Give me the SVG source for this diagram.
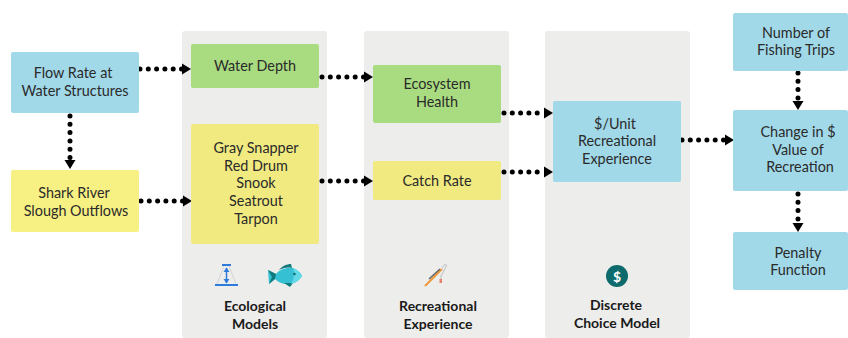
<svg xmlns="http://www.w3.org/2000/svg" width="848" height="338" viewBox="0 0 848 338">
<style>
text{font-family:Lato,"Open Sans","Liberation Sans",sans-serif;font-size:14.4px;fill:#2b2b2b;text-anchor:middle}
.h{font-weight:700;font-size:14px;fill:#1a1a1a}
.panel{fill:#ededec}
.blue{fill:#a1d9e9}
.yellow{fill:#f7f083}
.yellow2{fill:#f0ea80}
.green{fill:#a9dc80}
.c{fill:none;stroke:#000;stroke-width:5;stroke-linecap:round;stroke-dasharray:0 8.3;marker-end:url(#a)}
</style>
<defs>
<marker id="a" markerUnits="userSpaceOnUse" markerWidth="10" markerHeight="12" refX="0" refY="6" orient="auto"><path d="M0 0.500L9 6L0 11.500Z" fill="#000"/></marker>
</defs>
<rect width="848" height="338" fill="#fff"/>
<g id="panels">
<rect class="panel" x="182" y="31" width="145" height="307" rx="3"/>
<rect class="panel" x="364" y="31" width="145" height="307" rx="3"/>
<rect class="panel" x="545" y="31" width="145" height="307" rx="3"/>
</g>
<g id="connectors">
<path class="c" d="M140 69H182"/>
<path class="c" d="M70 116V160"/>
<path class="c" d="M141 201H183"/>
<path class="c" d="M322 77H364"/>
<path class="c" d="M322 181H364"/>
<path class="c" d="M504 113H544"/>
<path class="c" d="M504 172H544"/>
<path class="c" d="M682 140H725"/>
<path class="c" d="M798 73V101"/>
<path class="c" d="M798 194V223"/>
</g>
<g id="flow"><rect class="blue" x="11" y="52" width="128" height="61" rx="2"/><text x="73" y="78">Flow Rate at</text><text x="75" y="96">Water Structures</text></g>
<g id="shark"><rect class="yellow" x="11" y="170" width="128" height="62" rx="2"/><text x="74" y="198">Shark River</text><text x="76" y="216">Slough Outflows</text></g>
<g id="depth"><rect class="green" x="191" y="44" width="128" height="44" rx="2"/><text x="255" y="71">Water Depth</text></g>
<g id="species"><rect class="yellow2" x="191" y="124" width="128" height="120" rx="2"/><text x="256" y="153">Gray Snapper</text><text x="256" y="171">Red Drum</text><text x="256" y="188">Snook</text><text x="256" y="206">Seatrout</text><text x="256" y="224">Tarpon</text></g>
<g id="ecosystem"><rect class="green" x="373" y="65" width="128" height="58" rx="2"/><text x="437" y="89">Ecosystem</text><text x="437" y="107">Health</text></g>
<g id="catch"><rect class="yellow2" x="373" y="161" width="128" height="39" rx="2"/><text x="437" y="186">Catch Rate</text></g>
<g id="unit"><rect class="blue" x="553" y="101" width="128" height="81" rx="2"/><text x="615" y="129">$/Unit</text><text x="617" y="146">Recreational</text><text x="617" y="164">Experience</text></g>
<g id="trips"><rect class="blue" x="733" y="13" width="115" height="58" rx="2"/><text x="796" y="38">Number of</text><text x="796" y="55">Fishing Trips</text></g>
<g id="change"><rect class="blue" x="733" y="110" width="115" height="81" rx="2"/><text x="798" y="137">Change in $</text><text x="798" y="155">Value of</text><text x="800" y="172">Recreation</text></g>
<g id="penalty"><rect class="blue" x="733" y="232" width="115" height="58" rx="2"/><text x="798" y="258">Penalty</text><text x="798" y="275">Function</text></g>
<g id="ecological"><text class="h" x="255" y="311">Ecological</text><text class="h" x="255" y="329">Models</text>
<path d="M224 266L217 284M229 266L236 284" stroke="#c9cdd3" stroke-width=".8" fill="none"/>
<path d="M222 265H231M215 285H238" stroke="#2e7bdc" stroke-width="2" fill="none"/>
<path d="M226.500 268V283" stroke="#2e7bdc" stroke-width="1.500" fill="none"/>
<path d="M223.500 272L226.500 267.500L229.500 272ZM223.500 279L226.500 283.500L229.500 279Z" fill="#2e7bdc"/>
<path d="M268 270L276 274C280 269 287 267 293 268C298 270 301 273 302 276C299 281 294 284 288 284C282 284 278 282 275 279L269 284Z" fill="#35c0d4"/>
<path d="M268 270L276 274L275 279L269 284L272 277Z" fill="#117a7c"/>
<path d="M279 270C282 266 287 264 291 264L292 268C287 267 283 268 279 270Z" fill="#117a7c"/>
<path d="M284 283L293 283L290 287Z" fill="#117a7c"/>
<path d="M293 268C298 270 301 273 302 276C299 281 295 283 291 284C294 279 295 273 293 268Z" fill="#63d8e6"/>
<circle cx="294.500" cy="274" r="1.200" fill="#0d6367"/></g>
<g id="recreational"><text class="h" x="438" y="311">Recreational</text><text class="h" x="438" y="329">Experience</text>
<path d="M425 286L442 269" stroke="#ee9a3c" stroke-width="2" fill="none"/>
<path d="M429 279L440 269" stroke="#666" stroke-width="1.500" fill="none"/>
<path d="M442 268C445 263 447 263 446 267L441 276V282" stroke="#b9bcbf" stroke-width="1" fill="none"/>
<rect x="439.500" y="279" width="2.500" height="4" fill="#e8806c"/></g>
<g id="discrete"><text class="h" x="616" y="310">Discrete</text><text class="h" x="617" y="328">Choice Model</text>
<circle cx="617" cy="276" r="11" fill="#0d6b6b"/><text x="617" y="281.500" style="font-size:14px;font-weight:700;fill:#fff">$</text></g>
</svg>
